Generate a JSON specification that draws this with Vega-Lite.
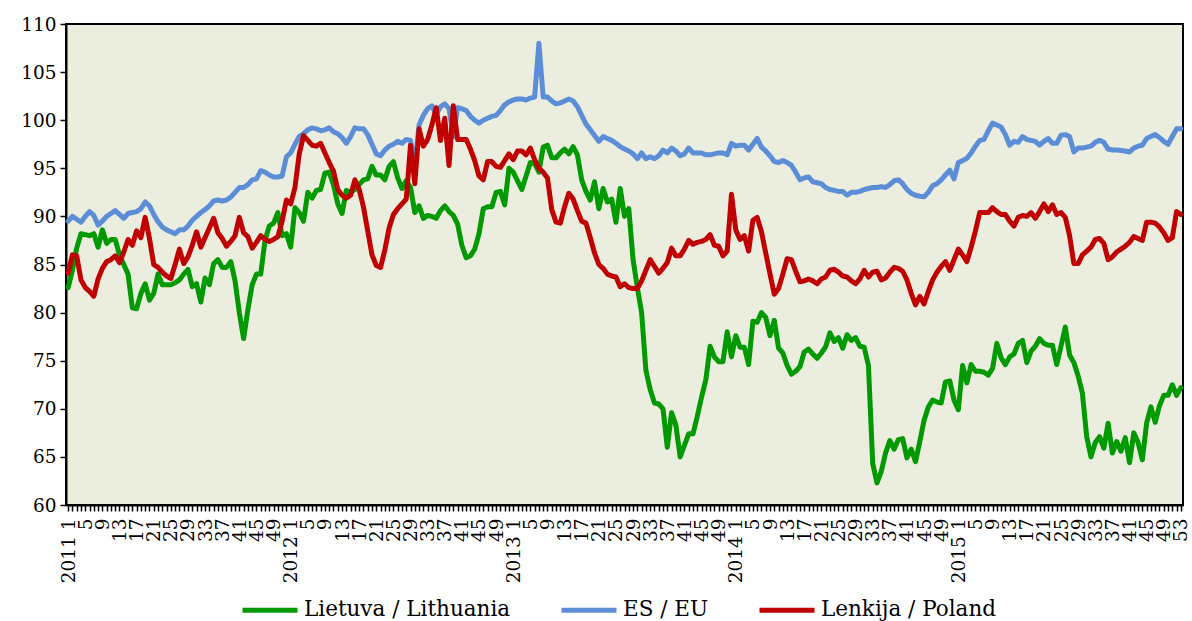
{
"$schema": "https://vega.github.io/schema/vega-lite/v6.json",
"width": 1117, "height": 481,
"autosize": {"type": "none"},
"padding": {"left": 66, "top": 24, "right": 9, "bottom": 116},
"background": "white",
"config": {"view": {"fill": "#EBEEDF", "stroke": "black", "strokeWidth": 2}},
"data": {"values": [
{"k":"2011-1","lt":82.6,"eu":89.5,"pl":84.1},{"k":"2011-2","lt":84.4,"eu":90.0,"pl":86.0},{"k":"2011-3","lt":86.7,"eu":89.7,"pl":85.9},{"k":"2011-4","lt":88.2,"eu":89.4,"pl":83.4},{"k":"2011-5","lt":88.1,"eu":90.0,"pl":82.6},{"k":"2011-6","lt":88.0,"eu":90.5,"pl":82.2},{"k":"2011-7","lt":88.2,"eu":90.1,"pl":81.7},{"k":"2011-8","lt":86.8,"eu":89.1,"pl":83.5},{"k":"2011-9","lt":88.6,"eu":89.5,"pl":84.6},{"k":"2011-10","lt":87.2,"eu":90.0,"pl":85.3},
{"k":"2011-11","lt":87.6,"eu":90.3,"pl":85.5},{"k":"2011-12","lt":87.6,"eu":90.6,"pl":85.9},{"k":"2011-13","lt":86.0,"eu":90.2,"pl":85.2},{"k":"2011-14","lt":85.0,"eu":89.8,"pl":86.3},{"k":"2011-15","lt":84.0,"eu":90.3,"pl":87.6},{"k":"2011-16","lt":80.5,"eu":90.4,"pl":87.0},{"k":"2011-17","lt":80.4,"eu":90.5,"pl":88.5},{"k":"2011-18","lt":82.0,"eu":90.8,"pl":87.8},{"k":"2011-19","lt":83.0,"eu":91.5,"pl":89.9},{"k":"2011-20","lt":81.3,"eu":91.1,"pl":87.7},
{"k":"2011-21","lt":82.0,"eu":90.2,"pl":85.0},{"k":"2011-22","lt":84.0,"eu":89.45,"pl":84.7},{"k":"2011-23","lt":82.9,"eu":88.9,"pl":84.2},{"k":"2011-24","lt":82.9,"eu":88.6,"pl":83.8},{"k":"2011-25","lt":82.9,"eu":88.4,"pl":83.55},{"k":"2011-26","lt":83.1,"eu":88.2,"pl":85.0},{"k":"2011-27","lt":83.4,"eu":88.6,"pl":86.6},{"k":"2011-28","lt":84.0,"eu":88.6,"pl":85.1},{"k":"2011-29","lt":84.5,"eu":89.0,"pl":85.8},{"k":"2011-30","lt":82.7,"eu":89.6,"pl":87.0},
{"k":"2011-31","lt":83.0,"eu":90.0,"pl":88.4},{"k":"2011-32","lt":81.1,"eu":90.4,"pl":86.8},{"k":"2011-33","lt":83.6,"eu":90.7,"pl":87.8},{"k":"2011-34","lt":82.9,"eu":91.1,"pl":88.8},{"k":"2011-35","lt":85.1,"eu":91.6,"pl":89.8},{"k":"2011-36","lt":85.5,"eu":91.7,"pl":88.3},{"k":"2011-37","lt":84.7,"eu":91.6,"pl":87.7},{"k":"2011-38","lt":84.7,"eu":91.7,"pl":86.9},{"k":"2011-39","lt":85.3,"eu":92.0,"pl":87.4},{"k":"2011-40","lt":83.3,"eu":92.5,"pl":88.0},
{"k":"2011-41","lt":80.0,"eu":93.0,"pl":89.9},{"k":"2011-42","lt":77.3,"eu":93.0,"pl":88.3},{"k":"2011-43","lt":80.3,"eu":93.3,"pl":87.9},{"k":"2011-44","lt":82.9,"eu":93.8,"pl":86.7},{"k":"2011-45","lt":84.0,"eu":93.9,"pl":87.3},{"k":"2011-46","lt":84.0,"eu":94.75,"pl":88.0},{"k":"2011-47","lt":87.5,"eu":94.6,"pl":87.6},{"k":"2011-48","lt":89.0,"eu":94.3,"pl":87.4},{"k":"2011-49","lt":89.3,"eu":94.1,"pl":87.6},{"k":"2011-50","lt":90.4,"eu":94.1,"pl":87.9},
{"k":"2011-51","lt":88.0,"eu":94.2,"pl":89.5},{"k":"2011-52","lt":88.2,"eu":96.2,"pl":91.7},
{"k":"2012-1","lt":86.8,"eu":96.6,"pl":91.3},{"k":"2012-2","lt":90.9,"eu":97.5,"pl":93.0},{"k":"2012-3","lt":90.4,"eu":98.3,"pl":96.5},{"k":"2012-4","lt":89.5,"eu":98.6,"pl":98.4},{"k":"2012-5","lt":92.5,"eu":99.0,"pl":97.9},{"k":"2012-6","lt":91.9,"eu":99.2,"pl":97.4},{"k":"2012-7","lt":92.7,"eu":99.1,"pl":97.3},{"k":"2012-8","lt":92.8,"eu":98.9,"pl":97.6},{"k":"2012-9","lt":94.5,"eu":99.0,"pl":96.6},{"k":"2012-10","lt":94.6,"eu":99.2,"pl":95.6},
{"k":"2012-11","lt":93.3,"eu":98.8,"pl":94.7},{"k":"2012-12","lt":91.3,"eu":98.6,"pl":92.8},{"k":"2012-13","lt":90.3,"eu":98.2,"pl":92.2},{"k":"2012-14","lt":92.7,"eu":97.6,"pl":91.9},{"k":"2012-15","lt":92.5,"eu":98.3,"pl":92.2},{"k":"2012-16","lt":92.8,"eu":99.2,"pl":93.8},{"k":"2012-17","lt":93.3,"eu":99.1,"pl":92.8},{"k":"2012-18","lt":93.8,"eu":99.1,"pl":91.0},{"k":"2012-19","lt":93.9,"eu":98.5,"pl":88.5},{"k":"2012-20","lt":95.2,"eu":97.5,"pl":86.0},
{"k":"2012-21","lt":94.3,"eu":96.5,"pl":84.9},{"k":"2012-22","lt":94.3,"eu":96.3,"pl":84.7},{"k":"2012-23","lt":93.8,"eu":96.9,"pl":86.5},{"k":"2012-24","lt":95.2,"eu":97.3,"pl":88.8},{"k":"2012-25","lt":95.7,"eu":97.5,"pl":90.2},{"k":"2012-26","lt":94.0,"eu":97.8,"pl":90.8},{"k":"2012-27","lt":92.9,"eu":97.6,"pl":91.3},{"k":"2012-28","lt":93.7,"eu":98.0,"pl":91.8},{"k":"2012-29","lt":93.0,"eu":97.9,"pl":97.4},{"k":"2012-30","lt":90.4,"eu":95.3,"pl":93.4},
{"k":"2012-31","lt":91.1,"eu":99.5,"pl":99.1},{"k":"2012-32","lt":89.8,"eu":100.5,"pl":97.3},{"k":"2012-33","lt":90.1,"eu":101.2,"pl":98.0},{"k":"2012-34","lt":90.0,"eu":101.5,"pl":99.5},{"k":"2012-35","lt":89.8,"eu":100.6,"pl":101.3},{"k":"2012-36","lt":90.6,"eu":101.4,"pl":97.9},{"k":"2012-37","lt":91.1,"eu":101.7,"pl":100.2},{"k":"2012-38","lt":90.5,"eu":101.2,"pl":95.3},{"k":"2012-39","lt":90.1,"eu":98.3,"pl":101.5},{"k":"2012-40","lt":89.2,"eu":101.3,"pl":98.0},
{"k":"2012-41","lt":87.0,"eu":101.2,"pl":98.0},{"k":"2012-42","lt":85.7,"eu":101.0,"pl":98.0},{"k":"2012-43","lt":85.9,"eu":100.4,"pl":97.0},{"k":"2012-44","lt":86.6,"eu":100.0,"pl":95.8},{"k":"2012-45","lt":88.2,"eu":99.7,"pl":94.2},{"k":"2012-46","lt":90.8,"eu":100.0,"pl":93.8},{"k":"2012-47","lt":91.0,"eu":100.2,"pl":95.7},{"k":"2012-48","lt":91.0,"eu":100.4,"pl":95.7},{"k":"2012-49","lt":92.5,"eu":100.5,"pl":95.2},{"k":"2012-50","lt":92.6,"eu":101.0,"pl":95.1},
{"k":"2012-51","lt":91.2,"eu":101.6,"pl":95.8},{"k":"2012-52","lt":95.0,"eu":101.9,"pl":96.5},
{"k":"2013-1","lt":94.6,"eu":102.1,"pl":95.9},{"k":"2013-2","lt":93.7,"eu":102.2,"pl":96.8},{"k":"2013-3","lt":92.8,"eu":102.2,"pl":96.8},{"k":"2013-4","lt":94.2,"eu":102.1,"pl":96.4},{"k":"2013-5","lt":95.6,"eu":102.3,"pl":97.1},{"k":"2013-6","lt":95.5,"eu":102.4,"pl":95.9},{"k":"2013-7","lt":94.6,"eu":108.0,"pl":95.0},{"k":"2013-8","lt":97.2,"eu":102.4,"pl":94.6},{"k":"2013-9","lt":97.4,"eu":102.4,"pl":94.0},{"k":"2013-10","lt":96.1,"eu":102.0,"pl":90.7},
{"k":"2013-11","lt":96.1,"eu":101.7,"pl":89.4},{"k":"2013-12","lt":96.6,"eu":101.8,"pl":89.3},{"k":"2013-13","lt":97.0,"eu":102.0,"pl":91.0},{"k":"2013-14","lt":96.5,"eu":102.2,"pl":92.4},{"k":"2013-15","lt":97.25,"eu":102.0,"pl":91.8},{"k":"2013-16","lt":96.4,"eu":101.4,"pl":90.6},{"k":"2013-17","lt":93.8,"eu":100.5,"pl":89.5},{"k":"2013-18","lt":92.6,"eu":99.6,"pl":89.3},{"k":"2013-19","lt":91.7,"eu":99.0,"pl":87.8},{"k":"2013-20","lt":93.6,"eu":98.4,"pl":86.2},
{"k":"2013-21","lt":90.8,"eu":97.8,"pl":85.0},{"k":"2013-22","lt":92.9,"eu":98.3,"pl":84.6},{"k":"2013-23","lt":91.5,"eu":98.1,"pl":84.0},{"k":"2013-24","lt":91.8,"eu":97.9,"pl":83.8},{"k":"2013-25","lt":89.4,"eu":97.6,"pl":83.7},{"k":"2013-26","lt":92.9,"eu":97.25,"pl":82.7},{"k":"2013-27","lt":90.0,"eu":97.0,"pl":83.0},{"k":"2013-28","lt":90.8,"eu":96.8,"pl":82.6},{"k":"2013-29","lt":85.5,"eu":96.5,"pl":82.5},{"k":"2013-30","lt":82.6,"eu":96.0,"pl":82.5},
{"k":"2013-31","lt":80.0,"eu":96.6,"pl":83.3},{"k":"2013-32","lt":74.0,"eu":96.0,"pl":84.4},{"k":"2013-33","lt":72.0,"eu":96.2,"pl":85.5},{"k":"2013-34","lt":70.6,"eu":96.0,"pl":84.8},{"k":"2013-35","lt":70.5,"eu":96.3,"pl":84.1},{"k":"2013-36","lt":70.0,"eu":96.9,"pl":84.6},{"k":"2013-37","lt":66.0,"eu":96.6,"pl":85.2},{"k":"2013-38","lt":69.6,"eu":97.1,"pl":86.7},{"k":"2013-39","lt":68.3,"eu":96.8,"pl":85.9},{"k":"2013-40","lt":65.0,"eu":96.3,"pl":85.9},
{"k":"2013-41","lt":66.2,"eu":96.5,"pl":86.6},{"k":"2013-42","lt":67.4,"eu":97.1,"pl":87.5},{"k":"2013-43","lt":67.4,"eu":96.6,"pl":87.1},{"k":"2013-44","lt":69.2,"eu":96.6,"pl":87.3},{"k":"2013-45","lt":71.2,"eu":96.6,"pl":87.4},{"k":"2013-46","lt":73.0,"eu":96.4,"pl":87.6},{"k":"2013-47","lt":76.5,"eu":96.4,"pl":88.1},{"k":"2013-48","lt":75.4,"eu":96.5,"pl":87.0},{"k":"2013-49","lt":74.9,"eu":96.6,"pl":86.9},{"k":"2013-50","lt":74.9,"eu":96.6,"pl":85.9},
{"k":"2013-51","lt":78.0,"eu":96.4,"pl":86.4},{"k":"2013-52","lt":75.4,"eu":97.6,"pl":92.3},
{"k":"2014-1","lt":77.6,"eu":97.3,"pl":88.6},{"k":"2014-2","lt":76.4,"eu":97.4,"pl":87.6},{"k":"2014-3","lt":76.4,"eu":97.4,"pl":88.0},{"k":"2014-4","lt":74.6,"eu":96.9,"pl":86.4},{"k":"2014-5","lt":79.1,"eu":97.5,"pl":89.6},{"k":"2014-6","lt":79.0,"eu":98.1,"pl":89.9},{"k":"2014-7","lt":80.0,"eu":97.2,"pl":88.4},{"k":"2014-8","lt":79.5,"eu":96.8,"pl":86.2},{"k":"2014-9","lt":77.6,"eu":96.3,"pl":84.0},{"k":"2014-10","lt":79.2,"eu":95.7,"pl":81.9},
{"k":"2014-11","lt":76.3,"eu":95.6,"pl":82.5},{"k":"2014-12","lt":75.8,"eu":95.8,"pl":84.0},{"k":"2014-13","lt":74.5,"eu":95.6,"pl":85.6},{"k":"2014-14","lt":73.6,"eu":95.3,"pl":85.5},{"k":"2014-15","lt":73.9,"eu":94.6,"pl":84.3},{"k":"2014-16","lt":74.4,"eu":93.8,"pl":83.2},{"k":"2014-17","lt":75.9,"eu":94.0,"pl":83.3},{"k":"2014-18","lt":76.2,"eu":94.1,"pl":83.5},{"k":"2014-19","lt":75.7,"eu":93.6,"pl":83.3},{"k":"2014-20","lt":75.25,"eu":93.5,"pl":83.0},
{"k":"2014-21","lt":75.8,"eu":93.4,"pl":83.5},{"k":"2014-22","lt":76.45,"eu":93.0,"pl":83.7},{"k":"2014-23","lt":77.9,"eu":92.8,"pl":84.4},{"k":"2014-24","lt":77.0,"eu":92.7,"pl":84.5},{"k":"2014-25","lt":77.4,"eu":92.6,"pl":84.2},{"k":"2014-26","lt":76.3,"eu":92.6,"pl":83.8},{"k":"2014-27","lt":77.7,"eu":92.2,"pl":83.7},{"k":"2014-28","lt":77.1,"eu":92.5,"pl":83.3},{"k":"2014-29","lt":77.4,"eu":92.5,"pl":83.0},{"k":"2014-30","lt":76.5,"eu":92.6,"pl":83.5},
{"k":"2014-31","lt":76.4,"eu":92.8,"pl":84.4},{"k":"2014-32","lt":74.5,"eu":92.9,"pl":83.7},{"k":"2014-33","lt":64.3,"eu":93.0,"pl":84.2},{"k":"2014-34","lt":62.3,"eu":93.0,"pl":84.3},{"k":"2014-35","lt":63.5,"eu":93.1,"pl":83.4},{"k":"2014-36","lt":65.4,"eu":93.0,"pl":83.6},{"k":"2014-37","lt":66.7,"eu":93.3,"pl":84.2},{"k":"2014-38","lt":65.8,"eu":93.7,"pl":84.7},{"k":"2014-39","lt":66.8,"eu":93.8,"pl":84.6},{"k":"2014-40","lt":66.9,"eu":93.4,"pl":84.3},
{"k":"2014-41","lt":64.9,"eu":92.8,"pl":83.4},{"k":"2014-42","lt":65.8,"eu":92.4,"pl":82.0},{"k":"2014-43","lt":64.5,"eu":92.2,"pl":80.8},{"k":"2014-44","lt":66.6,"eu":92.1,"pl":81.7},{"k":"2014-45","lt":68.8,"eu":92.05,"pl":80.9},{"k":"2014-46","lt":70.2,"eu":92.5,"pl":82.2},{"k":"2014-47","lt":70.9,"eu":93.2,"pl":83.4},{"k":"2014-48","lt":70.7,"eu":93.4,"pl":84.2},{"k":"2014-49","lt":70.6,"eu":93.8,"pl":84.8},{"k":"2014-50","lt":72.8,"eu":94.3,"pl":85.3},
{"k":"2014-51","lt":72.9,"eu":94.8,"pl":84.4},{"k":"2014-52","lt":70.9,"eu":93.9,"pl":85.5},
{"k":"2015-1","lt":69.9,"eu":95.6,"pl":86.6},{"k":"2015-2","lt":74.5,"eu":95.8,"pl":86.0},{"k":"2015-3","lt":72.7,"eu":96.05,"pl":85.3},{"k":"2015-4","lt":74.6,"eu":96.6,"pl":86.8},{"k":"2015-5","lt":73.9,"eu":97.3,"pl":88.5},{"k":"2015-6","lt":73.9,"eu":97.9,"pl":90.4},{"k":"2015-7","lt":73.8,"eu":98.0,"pl":90.4},{"k":"2015-8","lt":73.5,"eu":98.9,"pl":90.4},{"k":"2015-9","lt":74.2,"eu":99.7,"pl":90.9},{"k":"2015-10","lt":76.8,"eu":99.5,"pl":90.5},
{"k":"2015-11","lt":75.3,"eu":99.3,"pl":90.2},{"k":"2015-12","lt":74.6,"eu":98.5,"pl":90.2},{"k":"2015-13","lt":75.4,"eu":97.4,"pl":89.5},{"k":"2015-14","lt":75.7,"eu":97.8,"pl":89.0},{"k":"2015-15","lt":76.8,"eu":97.7,"pl":89.9},{"k":"2015-16","lt":77.1,"eu":98.3,"pl":90.1},{"k":"2015-17","lt":74.8,"eu":98.0,"pl":90.0},{"k":"2015-18","lt":76.0,"eu":97.9,"pl":90.4},{"k":"2015-19","lt":76.5,"eu":97.8,"pl":89.8},{"k":"2015-20","lt":77.3,"eu":97.4,"pl":90.5},
{"k":"2015-21","lt":76.8,"eu":97.8,"pl":91.3},{"k":"2015-22","lt":76.6,"eu":98.1,"pl":90.5},{"k":"2015-23","lt":76.6,"eu":97.6,"pl":91.2},{"k":"2015-24","lt":74.6,"eu":97.6,"pl":90.2},{"k":"2015-25","lt":76.5,"eu":98.45,"pl":90.4},{"k":"2015-26","lt":78.5,"eu":98.5,"pl":89.9},{"k":"2015-27","lt":75.6,"eu":98.3,"pl":88.0},{"k":"2015-28","lt":74.8,"eu":96.7,"pl":85.1},{"k":"2015-29","lt":73.4,"eu":97.1,"pl":85.1},{"k":"2015-30","lt":71.6,"eu":97.1,"pl":86.0},
{"k":"2015-31","lt":67.1,"eu":97.2,"pl":86.4},{"k":"2015-32","lt":65.0,"eu":97.3,"pl":86.8},{"k":"2015-33","lt":66.5,"eu":97.7,"pl":87.6},{"k":"2015-34","lt":67.1,"eu":97.9,"pl":87.7},{"k":"2015-35","lt":65.9,"eu":97.7,"pl":87.2},{"k":"2015-36","lt":68.5,"eu":97.0,"pl":85.5},{"k":"2015-37","lt":65.4,"eu":96.9,"pl":85.8},{"k":"2015-38","lt":66.6,"eu":96.9,"pl":86.3},{"k":"2015-39","lt":65.6,"eu":96.85,"pl":86.6},{"k":"2015-40","lt":67.0,"eu":96.8,"pl":86.9},
{"k":"2015-41","lt":64.4,"eu":96.7,"pl":87.3},{"k":"2015-42","lt":67.5,"eu":97.1,"pl":87.9},{"k":"2015-43","lt":66.5,"eu":97.3,"pl":87.7},{"k":"2015-44","lt":64.7,"eu":97.4,"pl":87.5},{"k":"2015-45","lt":68.5,"eu":98.1,"pl":89.4},{"k":"2015-46","lt":70.2,"eu":98.3,"pl":89.4},{"k":"2015-47","lt":68.6,"eu":98.5,"pl":89.3},{"k":"2015-48","lt":70.3,"eu":98.2,"pl":88.9},{"k":"2015-49","lt":71.4,"eu":97.8,"pl":88.3},{"k":"2015-50","lt":71.4,"eu":97.5,"pl":87.5},
{"k":"2015-51","lt":72.5,"eu":98.3,"pl":87.8},{"k":"2015-52","lt":71.4,"eu":99.1,"pl":90.5},{"k":"2015-53","lt":72.2,"eu":99.1,"pl":90.2}
]},
"transform": [{"fold": ["lt", "eu", "pl"], "as": ["s", "v"]}],
"mark": {"type": "line", "strokeWidth": 5, "strokeJoin": "round", "strokeCap": "round"},
"encoding": {
  "x": {"field": "k", "type": "ordinal", "sort": null,
    "scale": {"type": "point", "padding": 0.5},
    "axis": {"title": null, "labelAngle": 270, "labelFont": "DejaVu Serif", "labelFontSize": 18.5, "labelColor": "black",
      "labelOverlap": false, "labelBound": false, "labelFlush": false, "labelPadding": 7,
      "tickColor": "black", "tickSize": 6, "tickWidth": 1.5, "domainColor": "black", "domainWidth": 2, "grid": false,
      "labelExpr": "toNumber(split(datum.value,'-')[1]) == 1 ? split(datum.value,'-')[0] + ' 1' : ((toNumber(split(datum.value,'-')[1]) - 1) % 4 == 0 ? split(datum.value,'-')[1] : '')"}},
  "y": {"field": "v", "type": "quantitative",
    "scale": {"domain": [60, 110], "nice": false, "zero": false},
    "axis": {"title": null, "values": [60,65,70,75,80,85,90,95,100,105,110], "labelFont": "DejaVu Serif", "labelFontSize": 18.5, "labelColor": "black",
      "tickColor": "black", "tickSize": 6, "tickWidth": 1.5, "domainColor": "black", "domainWidth": 2, "grid": false, "labelPadding": 4}},
  "color": {"field": "s", "type": "nominal",
    "scale": {"domain": ["lt", "eu", "pl"], "range": ["#009900", "#5B8ED6", "#C00000"]},
    "legend": {"title": null, "orient": "none", "legendX": 174, "legendY": 556, "direction": "horizontal", "symbolType": "stroke", "symbolStrokeWidth": 5, "symbolSize": 3025,
      "labelFont": "DejaVu Serif", "labelFontSize": 21.5, "labelColor": "black", "columnPadding": 40, "labelOffset": 4,
      "labelLimit": 400,
      "labelExpr": "datum.value == 'lt' ? 'Lietuva / Lithuania' : (datum.value == 'eu' ? 'ES / EU' : 'Lenkija / Poland')"}}
}
}
